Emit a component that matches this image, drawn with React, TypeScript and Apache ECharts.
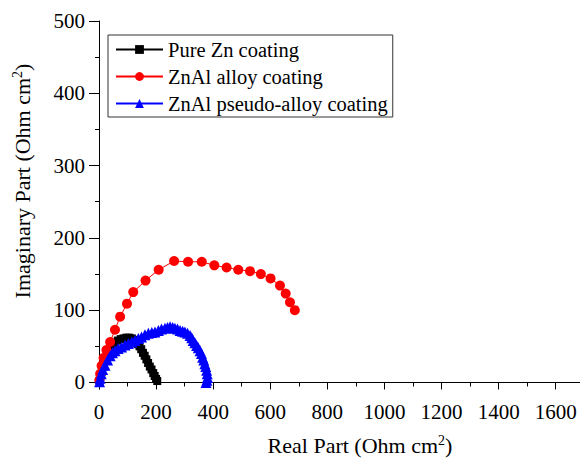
import React, { useEffect, useRef } from "react";
import * as echarts from "echarts";

const seriesNames = ["Pure Zn coating", "ZnAl alloy coating", "ZnAl pseudo-alloy coating"];

const pureZn: number[][] = [
  [2, 2], [5, 8], [10, 15], [16, 22], [23, 30], [31, 37], [40, 44], [48, 50], [57, 55], [66, 58],
  [76, 60], [86, 61], [96, 62], [106, 62], [115, 61], [123, 59], [130, 56], [136, 53], [142, 50],
  [148, 46], [154, 41], [160, 37], [166, 32], [172, 27], [178, 22], [184, 18], [190, 13], [195, 9],
  [200, 5], [204, 2],
];

const znAl: number[][] = [
  [1, 3], [4, 12], [9, 23], [16, 34], [26, 45], [39, 56], [56, 73], [74, 91], [98, 109], [120, 125],
  [163, 141], [209, 156], [263, 168], [312, 167], [360, 167], [404, 162], [447, 159], [488, 156],
  [529, 154], [567, 150], [601, 144], [634, 134], [654, 123], [669, 111], [686, 100],
];

const znAlPseudo: number[][] = [
  [2, 1], [4, 6], [8, 12], [13, 18], [21, 24], [30, 31], [39, 37], [47, 41], [56, 44], [67, 47],
  [79, 49], [91, 52], [103, 54], [115, 56], [126, 58], [138, 61], [149, 63], [161, 66], [173, 68],
  [185, 69], [196, 70], [208, 72], [219, 74], [231, 75], [240, 76], [249, 77], [258, 76], [266, 75],
  [275, 74], [284, 72], [293, 71], [301, 70], [310, 68], [319, 65], [325, 62], [330, 58], [336, 55],
  [342, 51], [348, 48], [354, 44], [359, 40], [363, 35], [367, 31], [371, 26], [374, 22], [377, 17],
  [379, 12], [380, 7], [378, 3], [375, 0],
];

const xMajorTicks = [0, 200, 400, 600, 800, 1000, 1200, 1400, 1600];
const xMinorTicks = [100, 300, 500, 700, 900, 1100, 1300, 1500];
const yMajorTicks = [0, 100, 200, 300, 400, 500];
const yMinorTicks = [50, 150, 250, 350, 450];

const FONT = "'Liberation Serif', 'Times New Roman', serif";

export default function App() {
  const ref = useRef<HTMLDivElement>(null);
  useEffect(() => {
    if (!ref.current) return;
    const chart = echarts.init(ref.current, null, { renderer: "svg" });
    const plain = (v: number) => String(v);
    const tickStyle = { color: "#000", width: 1 };
    const rich = {
      a: { fontFamily: FONT, fontSize: 22, fill: "#000" },
      s: { fontFamily: FONT, fontSize: 14, fill: "#000", verticalAlign: "top", padding: [0, 0, 9, 0] },
    };
    chart.setOption({
      animation: false,
      backgroundColor: "#fff",
      textStyle: { fontFamily: FONT },
      grid: { left: 99, top: 21, right: 0, bottom: 70, containLabel: false, outerBoundsMode: "none" },
      legend: {
        orient: "vertical",
        left: 108,
        top: 35,
        padding: [4, 5, 3, 7],
        borderColor: "#333",
        borderWidth: 1,
        itemWidth: 47,
        itemHeight: 11,
        itemGap: 6,
        data: seriesNames,
        textStyle: { fontFamily: FONT, fontSize: 20.5, color: "#000", lineHeight: 21 },
      },
      xAxis: [
        {
          type: "value",
          min: 0,
          max: 1685,
          axisLine: { show: true, lineStyle: { color: "#000", width: 1 } },
          splitLine: { show: false },
          axisTick: { show: true, inside: false, length: 7, customValues: xMajorTicks, lineStyle: tickStyle },
          axisLabel: { customValues: xMajorTicks, formatter: plain, fontFamily: FONT, fontSize: 21, color: "#000", margin: 12 },
        },
        {
          type: "value",
          min: 0,
          max: 1685,
          position: "bottom",
          axisLine: { show: false },
          splitLine: { show: false },
          axisTick: { show: true, inside: false, length: 4, customValues: xMinorTicks, lineStyle: tickStyle },
          axisLabel: { show: false },
        },
      ],
      yAxis: [
        {
          type: "value",
          min: -9,
          max: 500,
          axisLine: { show: true, lineStyle: { color: "#000", width: 1 } },
          splitLine: { show: false },
          axisTick: { show: true, inside: false, length: 10, customValues: yMajorTicks, lineStyle: tickStyle },
          axisLabel: { customValues: yMajorTicks, formatter: plain, fontFamily: FONT, fontSize: 21, color: "#000", margin: 14 },
        },
        {
          type: "value",
          min: -9,
          max: 500,
          position: "left",
          axisLine: { show: false },
          splitLine: { show: false },
          axisTick: { show: true, inside: false, length: 4, customValues: yMinorTicks, lineStyle: tickStyle },
          axisLabel: { show: false },
        },
      ],
      graphic: [
        {
          type: "text",
          x: 360,
          y: 445,
          style: {
            text: "{a|Real Part (Ohm cm}{s|2}{a|)}",
            align: "center",
            verticalAlign: "middle",
            rich,
          },
        },
        {
          type: "text",
          x: 22,
          y: 181,
          rotation: Math.PI / 2,
          style: {
            text: "{a|Imaginary Part (Ohm cm}{s|2}{a|)}",
            align: "center",
            verticalAlign: "middle",
            rich,
          },
        },
      ],
      series: [
        {
          name: seriesNames[0],
          type: "line",
          data: pureZn,
          symbol: "rect",
          symbolSize: 8,
          itemStyle: { color: "#000" },
          lineStyle: { color: "#000", width: 1 },
          z: 2,
        },
        {
          name: seriesNames[1],
          type: "line",
          data: znAl,
          symbol: "circle",
          symbolSize: 10,
          itemStyle: { color: "#ff0000" },
          lineStyle: { color: "#ff0000", width: 1 },
          z: 3,
        },
        {
          name: seriesNames[2],
          type: "line",
          data: znAlPseudo,
          symbol: "triangle",
          symbolSize: 11,
          itemStyle: { color: "#0000ff" },
          lineStyle: { color: "#0000ff", width: 1 },
          z: 4,
        },
      ],
    });
    return () => chart.dispose();
  }, []);
  return <div ref={ref} style={{ width: 580, height: 459, position: "absolute", left: 0, top: 0 }} />;
}
